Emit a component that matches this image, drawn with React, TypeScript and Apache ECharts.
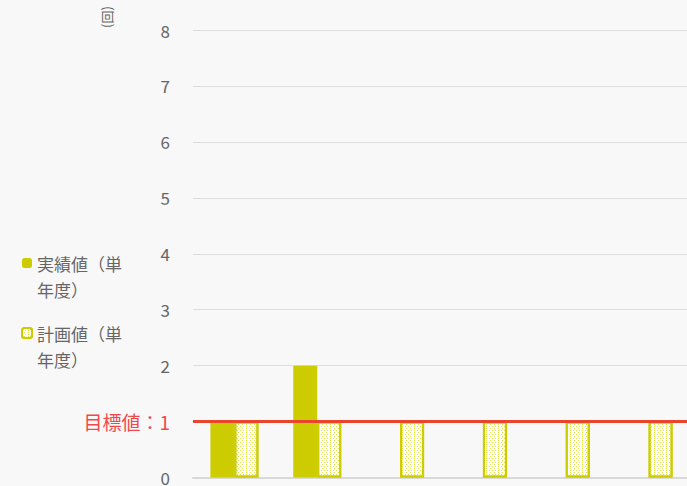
import React, { useEffect, useRef } from "react";
import * as echarts from "echarts";

const categories = ["1", "2", "3", "4", "5", "6"];
const actualValues = [1, 2, null, null, null, null];
const planValues = [1, 1, 1, 1, 1, 1];
const targetValue = 1;
const seriesNames = ["実績値（単年度）", "計画値（単年度）"];
const yTicks = [0, 1, 2, 3, 4, 5, 6, 7, 8];

export default function App() {
  const ref = useRef<HTMLDivElement>(null);
  useEffect(() => {
    if (!ref.current) return;
    const chart = echarts.init(ref.current, null, { renderer: "svg" });
    const font = "'Noto Sans CJK JP', 'Noto Sans', sans-serif";
    chart.setOption({
      animation: false,
      backgroundColor: "#f8f8f8",
      textStyle: { fontFamily: font },
      grid: { left: 193, right: 10, top: 30, bottom: 8 },
      legend: {
        orient: "vertical",
        left: 21,
        top: 224,
        padding: 0,
        itemWidth: 10,
        itemHeight: 10,
        itemGap: -8,
        data: seriesNames,
        formatter: (name: string) => "\n" + name,
        textStyle: {
          color: "#666",
          fontSize: 17,
          lineHeight: 26,
          width: 90,
          overflow: "break",
        },
      },
      graphic: [
        {
          type: "text",
          x: 106,
          y: 17,
          rotation: Math.PI / 2,
          style: {
            text: "(回)",
            fontSize: 13,
            fill: "#666",
            align: "center",
            verticalAlign: "middle",
            fontFamily: font,
          },
        },
      ],
      xAxis: {
        type: "category",
        data: categories,
        axisLine: { lineStyle: { color: "#d9d9d9", width: 2 } },
        axisTick: { show: false },
        axisLabel: { show: false },
      },
      yAxis: {
        type: "value",
        min: yTicks[0],
        max: yTicks[yTicks.length - 1],
        interval: 1,
        axisLine: { show: false },
        axisTick: { show: false },
        splitLine: { lineStyle: { color: "#dddddd", width: 1 } },
        axisLabel: {
          margin: 23,
          color: "#666",
          fontSize: 17,
          formatter: (v: number) =>
            v === targetValue ? "{r|目標値：" + v + "}" : String(v),
          rich: { r: { color: "#f24848", fontSize: 19 } },
        },
      },
      series: [
        {
          name: seriesNames[0],
          type: "bar",
          data: actualValues,
          barWidth: 24,
          barGap: "0%",
          itemStyle: { color: "#cccc00" },
        },
        {
          name: seriesNames[1],
          type: "bar",
          data: planValues,
          barWidth: 24,
          barGap: "0%",
          itemStyle: {
            color: "#ffffff",
            borderColor: "#cccc00",
            borderWidth: 2,
            decal: {
              symbol: "rect",
              symbolSize: 1,
              color: "#e2e24a",
              dashArrayX: [
                [1, 2],
                [0, 1.5, 1, 0.5],
              ],
              dashArrayY: [1, 1],
              rotation: 0,
            },
          },
          markLine: {
            silent: true,
            symbol: "none",
            label: { show: false },
            lineStyle: { color: "#e8452c", width: 3, type: "solid" },
            data: [{ yAxis: targetValue }],
          },
        },
      ],
    });
    return () => chart.dispose();
  }, []);
  return (
    <div
      style={{
        position: "fixed",
        left: 0,
        top: 0,
        width: 687,
        height: 486,
        overflow: "hidden",
      }}
    >
      <div ref={ref} style={{ width: 700, height: 486 }} />
    </div>
  );
}
